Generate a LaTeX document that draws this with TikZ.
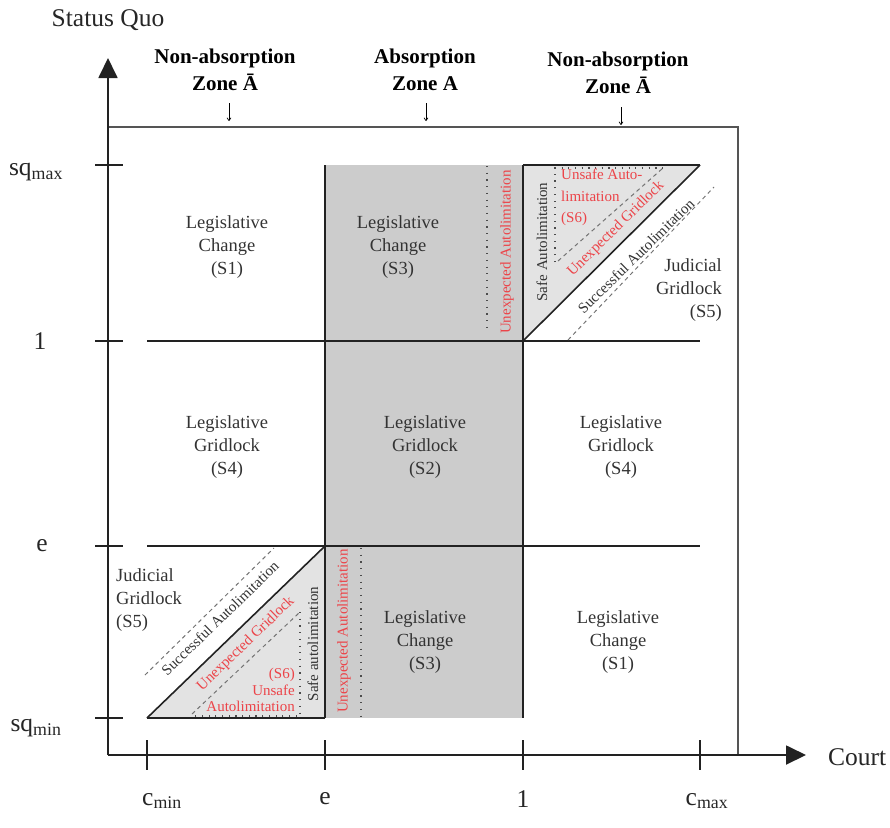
\documentclass[tikz,border=0pt]{standalone}
\usepackage{fontspec}
\setmainfont{Liberation Serif}
\usetikzlibrary{arrows.meta}
\definecolor{colgray}{HTML}{CCCCCC}
\definecolor{trigray}{HTML}{E3E3E3}
\definecolor{redtxt}{HTML}{EC4449}
\definecolor{linecol}{HTML}{222222}
\definecolor{framecol}{HTML}{555555}
\begin{document}
\begin{tikzpicture}[x=1pt,y=-1pt,
  body/.style={font=\fontsize{18.5}{23}\selectfont, align=center, text=black!80, inner sep=0pt},
  small/.style={font=\fontsize{15}{16.5}\selectfont, text=black!80, inner sep=0pt},
  redlab/.style={small, text=redtxt},
  head/.style={font=\bfseries\fontsize{21}{27}\selectfont, align=center, inner sep=0pt},
  axislab/.style={font=\fontsize{25.5}{28}\selectfont, inner sep=0pt, text=black!85},
  gridline/.style={line width=1.6pt, draw=linecol},
  dotline/.style={line width=1.4pt, dash pattern=on 1.2pt off 5.5pt, draw=black!70},
  dashline/.style={line width=1pt, dash pattern=on 4pt off 3.5pt, draw=black!55},
  tickline/.style={line width=1.6pt, draw=linecol},
  hdarrow/.style={line width=0.7pt, -{To[length=3.5pt,width=4.5pt]}}
]
\useasboundingbox (0,0) rectangle (890,827);

% ---- coordinates
\coordinate (O) at (108,755);
\coordinate (Ytip) at (108,58);
\coordinate (Xtip) at (806,755);
\coordinate (F1) at (108,127);
\coordinate (F2) at (738,127);
\coordinate (F3) at (738,755);

% grid corners
\coordinate (cminsqmax) at (147,165);
\coordinate (esqmax) at (325,165);
\coordinate (onesqmax) at (523,165);
\coordinate (cmaxsqmax) at (700,165);
\coordinate (cmin1) at (147,341);
\coordinate (e1) at (325,341);
\coordinate (one1) at (523,341);
\coordinate (cmax1) at (700,341);
\coordinate (cmine) at (147,546);
\coordinate (ee) at (325,546);
\coordinate (onee) at (523,546);
\coordinate (cmaxe) at (700,546);
\coordinate (cminsqmin) at (147,718);
\coordinate (esqmin) at (325,718);
\coordinate (onesqmin) at (523,718);

% ---- fills
\fill[colgray] (esqmax) rectangle (onesqmin);
\fill[trigray] (one1) -- (onesqmax) -- (cmaxsqmax) -- cycle;
\fill[trigray] (cminsqmin) -- (ee) -- (esqmin) -- cycle;

% ---- frame
\draw[line width=2pt, draw=framecol] (F1) -- (F2) -- (F3);

% ---- axes
\draw[line width=1.8pt, draw=linecol, -{Triangle[length=20pt,width=19pt]}] (O) -- (Ytip);
\draw[line width=1.8pt, draw=linecol, -{Triangle[length=20pt,width=19pt]}] (O) -- (Xtip);

% ---- ticks
\foreach \y [count=\i] in {165,341,546,718} {
  \coordinate (yt\i a) at (95,\y);
  \coordinate (yt\i b) at (123,\y);
  \draw[tickline] (yt\i a) -- (yt\i b);
}
\foreach \x [count=\i] in {147,325,523,700} {
  \coordinate (xt\i a) at (\x,740);
  \coordinate (xt\i b) at (\x,770);
  \draw[tickline] (xt\i a) -- (xt\i b);
}

% ---- grid lines
\draw[gridline] (cmin1) -- (cmax1);
\draw[gridline] (cmine) -- (cmaxe);
\draw[gridline] (esqmax) -- (esqmin);
\draw[gridline] (onesqmax) -- (onesqmin);
\draw[gridline] (onesqmax) -- (cmaxsqmax);
\draw[gridline] (one1) -- (cmaxsqmax);
\draw[gridline] (cminsqmin) -- (esqmin);
\draw[gridline] (cminsqmin) -- (ee);

% ---- dotted lines in the absorption column
\coordinate (d1a) at (487,166); \coordinate (d1b) at (487,333);
\draw[dotline] (d1a) -- (d1b);
\coordinate (d2a) at (361,548); \coordinate (d2b) at (361,716);
\draw[dotline] (d2a) -- (d2b);

% ---- top-right triangle details
\coordinate (t1) at (555,262); \coordinate (t2) at (555,168); \coordinate (t3) at (663,168);
\draw[dotline] (t1) -- (t2) -- (t3);
\coordinate (t4) at (558,261); \coordinate (t5) at (663,168);
\draw[dashline] (t4) -- (t5);
\coordinate (t6) at (568,340); \coordinate (t7) at (714,187);
\draw[dashline] (t6) -- (t7);

% ---- bottom-left triangle details
\coordinate (b1) at (300,612); \coordinate (b2) at (300,716); \coordinate (b3) at (190,716);
\draw[dotline] (b1) -- (b2) -- (b3);
\coordinate (b4) at (192,714); \coordinate (b5) at (300,612);
\draw[dashline] (b4) -- (b5);
\coordinate (b6) at (145,675); \coordinate (b7) at (274,548);
\draw[dashline] (b6) -- (b7);

% ---- header
\node[head] (h1) at (225,70) {Non-absorption\\Zone Ā};
\node[head] (h2) at (425,70) {Absorption\\Zone A};
\node[head] (h3) at (618,73) {Non-absorption\\Zone Ā};
\coordinate (h1a) at (229,103); \coordinate (h1b) at (229,121);
\coordinate (h2a) at (426,103); \coordinate (h2b) at (426,121);
\coordinate (h3a) at (621,107); \coordinate (h3b) at (621,125);
\draw[hdarrow] (h1a) -- (h1b);
\draw[hdarrow] (h2a) -- (h2b);
\draw[hdarrow] (h3a) -- (h3b);

% ---- axis titles
\node[axislab] (sq) at (108,20) {Status Quo};
\node[axislab, anchor=west] (court) at (828,757) {Court};

% ---- tick labels
\node[axislab] (lsqmax) at (36,172) {sq\textsubscript{max}};
\node[axislab] (l1y) at (40,341) {1};
\node[axislab] (ley) at (42,546) {e};
\node[axislab] (lsqmin) at (36,728) {sq\textsubscript{min}};
\node[axislab] (lcmin) at (162,801) {c\textsubscript{min}};
\node[axislab] (lex) at (325,799) {e};
\node[axislab] (l1x) at (523,799) {1};
\node[axislab] (lcmax) at (707,801) {c\textsubscript{max}};

% ---- region labels
\node[body] (s1a) at (227,247) {Legislative\\Change\\(S1)};
\node[body] (s3a) at (398,247) {Legislative\\Change\\(S3)};
\node[body] (s4a) at (227,447) {Legislative\\Gridlock\\(S4)};
\node[body] (s2) at (425,447) {Legislative\\Gridlock\\(S2)};
\node[body] (s4b) at (621,447) {Legislative\\Gridlock\\(S4)};
\node[body] (s3b) at (425,642) {Legislative\\Change\\(S3)};
\node[body] (s1b) at (618,642) {Legislative\\Change\\(S1)};
\node[body, align=right, anchor=east] (s5a) at (722,290) {Judicial\\Gridlock\\(S5)};
\node[body, align=left, anchor=west] (s5b) at (116,600) {Judicial\\Gridlock\\(S5)};

% ---- small labels
\node[redlab, rotate=90] (ua1) at (507,252) {Unexpected Autolimitation};
\node[redlab, rotate=90] (ua2) at (344,631) {Unexpected Autolimitation};
\node[small, rotate=90] (safe1) at (542,242) {Safe Autolimitation};
\node[redlab, align=left, anchor=north west, font=\fontsize{15}{21.5}\selectfont] (unsafe1) at (561,169) {Unsafe Auto-\\limitation\\(S6)};
\node[redlab, rotate=44.5] (ug1) at (616,229) {Unexpected Gridlock};
\node[small, rotate=44.5] (sa1) at (636,256) {Successful Autolimitation};

\node[small, rotate=90] (safe2) at (313,644) {Safe autolimitation};
\node[redlab, align=right, anchor=east, font=\fontsize{15}{16.5}\selectfont] (unsafe2) at (295,690) {(S6)\\Unsafe\\Autolimitation};
\node[redlab, rotate=44] (ug2) at (246,644) {Unexpected Gridlock};
\node[small, rotate=44] (sa2) at (220,618) {Successful Autolimitation};
\end{tikzpicture}
\end{document}
